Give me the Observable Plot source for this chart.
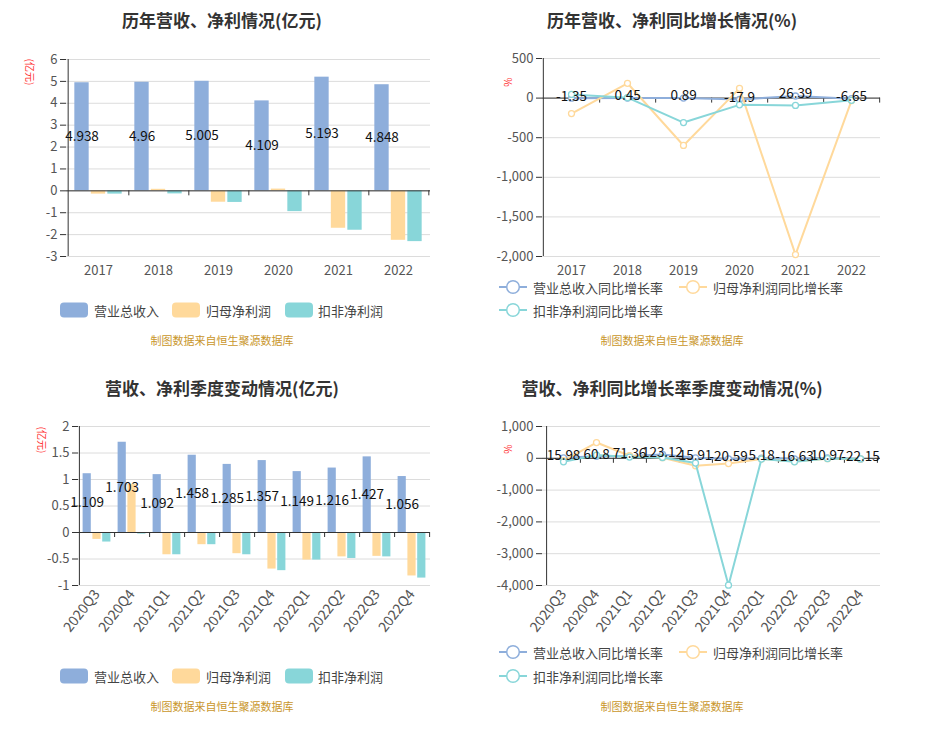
<!DOCTYPE html>
<html><head><meta charset="utf-8">
<script src="https://cdn.jsdelivr.net/npm/d3@7"></script>
<script src="https://cdn.jsdelivr.net/npm/@observablehq/plot@0.6"></script>
<style>
body{margin:0;background:#fff;font-family:"Noto Sans CJK SC","Noto Sans",sans-serif;}
#root{position:relative;width:939px;height:733px;overflow:hidden;}
.panel{position:absolute;}
.title{position:absolute;font-size:17px;font-weight:bold;color:#333;white-space:nowrap;transform:translate(-50%,-50%);line-height:20px;}
.src{position:absolute;font-size:11px;color:#c9962b;transform:translate(-50%,-50%);white-space:nowrap;line-height:12px;}
.leg{position:absolute;font-size:13px;color:#444;white-space:nowrap;line-height:13px;transform:translateY(-50%);}
.unit{position:absolute;font-size:10px;color:#f33;white-space:nowrap;line-height:11px;transform:translate(-50%,-50%) rotate(90deg);}
.sw{position:absolute;width:28px;height:15px;border-radius:4px;transform:translateY(-50%);}
</style></head><body><div id="root"></div><script>
// ---------- data ----------
const years = ["2017","2018","2019","2020","2021","2022"];
const quarters = ["2020Q3","2020Q4","2021Q1","2021Q2","2021Q3","2021Q4","2022Q1","2022Q2","2022Q3","2022Q4"];
const barSeries = ["营业总收入","归母净利润","扣非净利润"];
const lineSeries = ["营业总收入同比增长率","归母净利润同比增长率","扣非净利润同比增长率"];
const colors = ["#8eaedb","#ffd99b","#88d6d9"];

const annualRevenue = [4.938, 4.96, 5.005, 4.109, 5.193, 4.848];
const annualNetProfit = [-0.15, 0.07, -0.52, 0.08, -1.71, -2.26];
const annualDeductedProfit = [-0.15, -0.14, -0.53, -0.95, -1.80, -2.32];

const annualRevenueGrowth = [-1.35, 0.45, 0.89, -17.9, 26.39, -6.65];
const annualNetProfitGrowth = [-195, 187, -598, 123, -1976, -31];
const annualDeductedGrowth = [47, 5, -309, -85, -93, -28];

const qRevenue = [1.109, 1.703, 1.092, 1.458, 1.285, 1.357, 1.149, 1.216, 1.427, 1.056];
const qNetProfit = [-0.13, 0.91, -0.42, -0.23, -0.40, -0.69, -0.52, -0.46, -0.45, -0.82];
const qDeductedProfit = [-0.18, -0.03, -0.42, -0.23, -0.42, -0.72, -0.52, -0.49, -0.46, -0.86];

const qRevenueGrowth = [15.98, 60.8, 71.36, 123.12, 15.91, -20.59, 5.18, -16.63, 10.97, -22.15];
const qNetProfitGrowth = [-70, 496, 80, 20, -235, -165, -24, -100, -12, -19];
const qDeductedGrowth = [-110, 100, 40, 25, -150, -3990, -24, -110, -10, -19];

const annualTicks = [-3,-2,-1,0,1,2,3,4,5,6];
const annualGrowthTicks = [-2000,-1500,-1000,-500,0,500];
const qTicks = [-1,-0.5,0,0.5,1,1.5,2];
const qGrowthTicks = [-4000,-3000,-2000,-1000,0,1000];

const titles = ["历年营收、净利情况(亿元)","历年营收、净利同比增长情况(%)","营收、净利季度变动情况(亿元)","营收、净利同比增长率季度变动情况(%)"];
const sourceText = "制图数据来自恒生聚源数据库";
const unitYi = "(亿元)";
const unitPct = "%";

// ---------- helpers ----------
const root = document.getElementById("root");
const FONT = '"Noto Sans CJK SC","Noto Sans",sans-serif';
function addDiv(cls, text, x, y, extra) {
  const d = document.createElement("div");
  d.className = cls; d.textContent = text;
  d.style.left = x + "px"; d.style.top = y + "px";
  if (extra) Object.assign(d.style, extra);
  root.appendChild(d); return d;
}
function place(svg, left, top) {
  const w = document.createElement("div");
  w.className = "panel"; w.style.left = left + "px"; w.style.top = top + "px";
  w.appendChild(svg); root.appendChild(w);
}
const fmtNum = d => d.toLocaleString("en-US");

function barPanel({cats, values, ticks, width, height, ml, mr, mt, mb, barW, offset, rotate, domain}) {
  const bw = (width - ml - mr) / cats.length;
  const inset = (bw - barW) / 2;
  const rows = vals => cats.map((c, i) => ({c, v: vals[i]}));
  return Plot.plot({
    width, height, marginLeft: ml, marginRight: mr, marginTop: mt, marginBottom: mb,
    style: {fontFamily: FONT, background: "transparent"},
    x: {type: "band", domain: cats, padding: 0},
    y: {domain},
    marks: [
      Plot.gridY(ticks, {stroke: "#dcdcdc", strokeOpacity: 1}),
      ...values.map((vals, k) => Plot.barY(rows(vals), {x: "c", y: "v", fill: colors[k], insetLeft: inset, insetRight: inset, dx: (k - 1) * offset})),
      Plot.ruleY([0], {stroke: "#333"}),
      Plot.ruleX(cats, {x: d => d, y1: 0, y2: 0, dx: bw / 2, insetBottom: -5, stroke: "#333"}),
      Plot.ruleX([cats[0]], {x: d => d, dx: -bw / 2, stroke: "#333"}),
      Plot.axisY(ticks, {label: null, tickSize: 6, tickPadding: 3, fontSize: 13, stroke: "#333", fill: "#555", tickFormat: d => String(d)}),
      Plot.axisX({label: null, tickSize: 0, tickPadding: rotate ? 6 : 9, fontSize: rotate ? 14 : 13, fill: "#555", tickRotate: rotate || 0}),
      Plot.text(rows(values[0]), {x: "c", y: d => d.v / 2, text: d => String(d.v), dx: -offset, fontSize: 13.5, fill: "#111"})
    ]
  });
}

function linePanel({cats, values, ticks, width, height, ml, mr, mt, mb, rotate, domain}) {
  const bw = (width - ml - mr) / cats.length;
  const rows = vals => cats.map((c, i) => ({c, v: vals[i]}));
  const marks = [
    Plot.gridY(ticks, {stroke: "#dcdcdc", strokeOpacity: 1}),
    Plot.ruleY([0], {stroke: "#333"}),
    Plot.ruleX(cats, {x: d => d, y1: 0, y2: 0, dx: bw / 2, insetBottom: -5, stroke: "#333"}),
    Plot.ruleX([cats[0]], {x: d => d, dx: -bw / 2, stroke: "#333"}),
    Plot.axisY(ticks, {label: null, tickSize: 6, tickPadding: 3, fontSize: 13, stroke: "#333", fill: "#555", tickFormat: fmtNum}),
    Plot.axisX({label: null, tickSize: 0, tickPadding: rotate ? 6 : 9, fontSize: rotate ? 14 : 13, fill: "#555", tickRotate: rotate || 0})
  ];
  values.forEach((vals, k) => {
    marks.push(Plot.line(rows(vals), {x: "c", y: "v", stroke: colors[k], strokeWidth: 2}));
    marks.push(Plot.dot(rows(vals), {x: "c", y: "v", r: 3, fill: "white", stroke: colors[k], strokeWidth: 1.3}));
  });
  marks.push(Plot.text(rows(values[0]), {x: "c", y: "v", text: d => String(d.v), dy: -2, fontSize: 13.5, fill: "#111"}));
  return Plot.plot({
    width, height, marginLeft: ml, marginRight: mr, marginTop: mt, marginBottom: mb,
    style: {fontFamily: FONT, background: "transparent"},
    x: {type: "point", domain: cats, padding: 0.5},
    y: {domain},
    marks
  });
}

function barLegend(y) {
  const xs = [[60, 94], [172, 206], [285, 318]];
  barSeries.forEach((s, k) => {
    const sw = document.createElement("div");
    sw.className = "sw"; sw.style.left = xs[k][0] + "px"; sw.style.top = y + "px"; sw.style.background = colors[k];
    root.appendChild(sw);
    addDiv("leg", s, xs[k][1], y);
  });
}
function lineLegend(y1, y2) {
  const pos = [[499, 533, y1], [679, 713, y1], [499, 533, y2]];
  lineSeries.forEach((s, k) => {
    const [ix, tx, y] = pos[k];
    const ns = "http://www.w3.org/2000/svg";
    const svg = document.createElementNS(ns, "svg");
    svg.setAttribute("width", 30); svg.setAttribute("height", 16);
    svg.style.position = "absolute"; svg.style.left = ix + "px"; svg.style.top = (y - 8) + "px";
    const ln = document.createElementNS(ns, "line");
    ln.setAttribute("x1", 0); ln.setAttribute("x2", 28); ln.setAttribute("y1", 8); ln.setAttribute("y2", 8);
    ln.setAttribute("stroke", colors[k]); ln.setAttribute("stroke-width", 2);
    const c = document.createElementNS(ns, "circle");
    c.setAttribute("cx", 14); c.setAttribute("cy", 8); c.setAttribute("r", 6.3);
    c.setAttribute("fill", "white"); c.setAttribute("stroke", colors[k]); c.setAttribute("stroke-width", 1.5);
    svg.appendChild(ln); svg.appendChild(c); root.appendChild(svg);
    addDiv("leg", s, tx, y);
  });
}

// ---------- panels ----------
addDiv("title", titles[0], 222, 20);
place(barPanel({cats: years, values: [annualRevenue, annualNetProfit, annualDeductedProfit], ticks: annualTicks, domain: [-3, 6],
  width: 470, height: 250, ml: 66, mr: 40, mt: 19, mb: 34, barW: 15, offset: 16.5}), 0, 40);
addDiv("unit", unitYi, 30, 72);
barLegend(310);
addDiv("src", sourceText, 222, 340);

addDiv("title", titles[1], 672, 20);
place(linePanel({cats: years, values: [annualRevenueGrowth, annualNetProfitGrowth, annualDeductedGrowth], ticks: annualGrowthTicks, domain: [-2000, 500],
  width: 469, height: 250, ml: 72, mr: 59, mt: 18, mb: 34}), 470, 40);
addDiv("unit", unitPct, 508, 82);
lineLegend(287, 310);
addDiv("src", sourceText, 672, 340);

addDiv("title", titles[2], 222, 388);
place(barPanel({cats: quarters, values: [qRevenue, qNetProfit, qDeductedProfit], ticks: qTicks, domain: [-1, 2],
  width: 470, height: 250, ml: 78, mr: 40, mt: 21, mb: 70, barW: 8.4, offset: 9.8, rotate: -52}), 0, 405);
addDiv("unit", unitYi, 42, 440);
barLegend(676);
addDiv("src", sourceText, 222, 706);

addDiv("title", titles[3], 672, 388);
place(linePanel({cats: quarters, values: [qRevenueGrowth, qNetProfitGrowth, qDeductedGrowth], ticks: qGrowthTicks, domain: [-4000, 1000],
  width: 469, height: 250, ml: 72, mr: 59, mt: 21, mb: 70, rotate: -52}), 470, 405);
addDiv("unit", unitPct, 508, 449);
lineLegend(652, 676);
addDiv("src", sourceText, 672, 706);
</script></body></html>
